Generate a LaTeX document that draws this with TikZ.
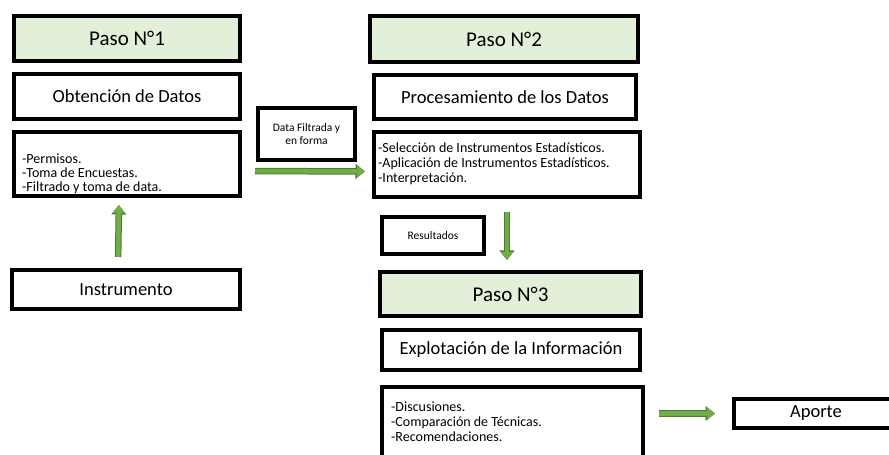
\documentclass[tikz,border=0pt]{standalone}
\usepackage{fontspec}
\setmainfont{Carlito}
\usetikzlibrary{arrows.meta}
\definecolor{verdeclaro}{HTML}{E2EFD9}
\definecolor{verdeflecha}{HTML}{70AD47}
\definecolor{verdeborde}{HTML}{4E7A33}
\tikzset{
	caja/.style={draw=black, line width=4pt, inner sep=2pt},
	paso/.style={caja, fill=verdeclaro, font=\fontsize{21}{25}\selectfont},
	titulo/.style={caja, font=\fontsize{18.5}{22}\selectfont},
	nota/.style={caja, align=center, font=\fontsize{11.5}{12.5}\selectfont},
	lista/.style={align=left, anchor=north west, inner sep=0pt, font=\fontsize{14}{14.8}\selectfont},
	flecha/.style={draw=verdeflecha, line width=4.5pt, -{Triangle[length=8pt,width=12pt]},
		preaction={draw=verdeborde, line width=6.5pt, -{Triangle[length=9.5pt,width=14.5pt]}}}
}

\begin{document}
\begin{tikzpicture}[x=1pt, y=1pt]
			%%%%% START %%%%%
			\useasboundingbox (0, 0) rectangle (889, 455);
			
			% paso 1
			\node[paso, minimum width=226pt, minimum height=45pt] (p1) at (127, 416.5) {Paso N°1};
			\node[titulo, minimum width=226pt, minimum height=45pt] (ob) at (127, 358.5) {Obtención de Datos};
			\node[caja, minimum width=226pt, minimum height=64pt] (la) at (127, 291) {};
			\node[lista, font=\fontsize{14}{14.2}\selectfont] (laTxt) at (22, 301.5) {-Permisos.\\-Toma de Encuestas.\\-Filtrado y toma de data.};
			\node[titulo, minimum width=228pt, minimum height=39pt] (ins) at (126, 165.5) {Instrumento};
			
			\node[nota, minimum width=97pt, minimum height=52pt] (df) at (306.5, 321) {Data Filtrada y\\en forma};
			
			% paso 2
			\node[paso, minimum width=268pt, minimum height=46pt] (p2) at (504, 416) {Paso N°2};
			\node[titulo, minimum width=262pt, minimum height=44pt] (pr) at (505, 358) {Procesamiento de los Datos};
			\node[caja, minimum width=266pt, minimum height=65pt] (lb) at (507, 290.5) {};
			\node[lista] (lbTxt) at (378, 312) {-Selección de Instrumentos Estadísticos.\\-Aplicación de Instrumentos Estadísticos.\\-Interpretación.};
			
			\node[nota, minimum width=102pt, minimum height=37pt] (res) at (433, 219.5) {Resultados};
			
			% paso 3
			\node[paso, minimum width=261pt, minimum height=44pt] (p3) at (510.5, 161) {Paso N°3};
			\node[titulo, minimum width=258pt, minimum height=40pt] (ex) at (511, 105) {Explotación de la Información};
			\node[caja, minimum width=261pt, minimum height=81pt] (lc) at (512.5, 27.5) {};
			\node[lista] (lcTxt) at (391, 53) {-Discusiones.\\-Comparación de Técnicas.\\-Recomendaciones.};
			
			\node[titulo, minimum width=164pt, minimum height=29pt] (ap) at (816, 41.5) {Aporte};
			
			% flechas
			\draw[flecha, shorten <=11pt, shorten >=7pt] ([xshift=-8pt]ins.north) -- ([xshift=-8pt]la.south);
			\draw[flecha, shorten <=13pt, shorten >=7pt] ([yshift=-7pt]la.east) -- ([yshift=-7pt]lb.west);
			\draw[flecha, shorten <=13pt, shorten >=10pt] (lb.south) -- (lb.south |- p3.north);
			\draw[flecha, shorten <=14pt, shorten >=17pt] (lc.east |- ap.west) -- (ap.west);
			
			%%%%% END %%%%%
\end{tikzpicture}
\end{document}
